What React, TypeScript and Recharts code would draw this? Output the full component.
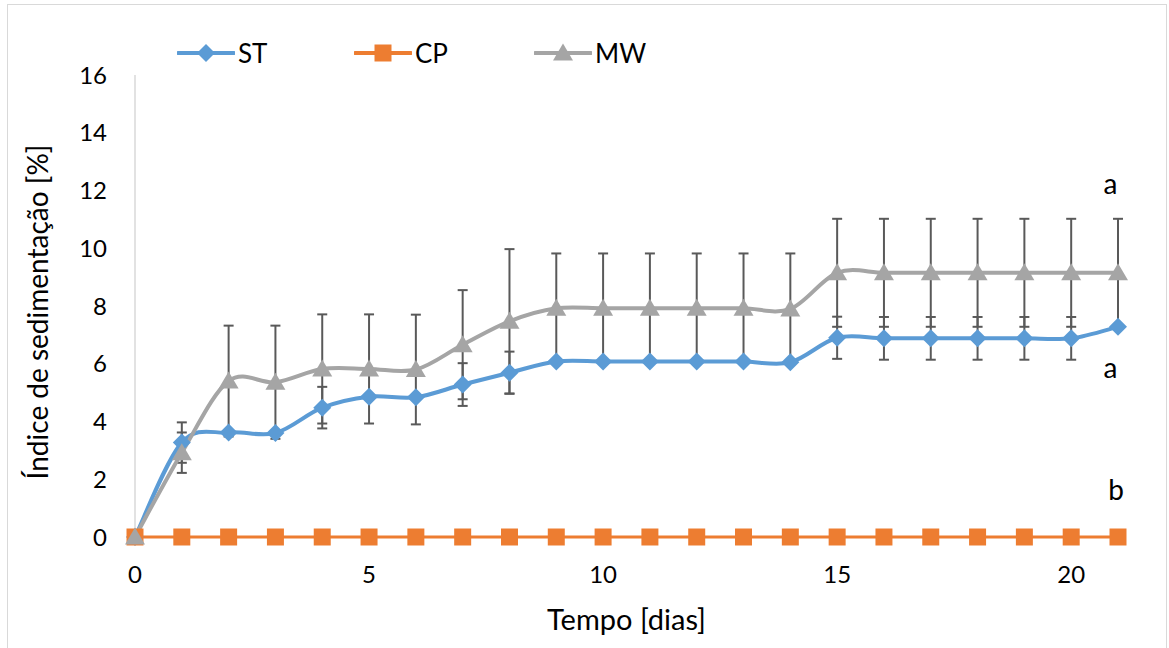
import React from 'react';
import { LineChart, Line, XAxis, YAxis, ErrorBar, ReferenceDot } from 'recharts';

const FONT = 'Lato, "Open Sans", sans-serif';

// ---- data ----
const days = [0, 1, 2, 3, 4, 5, 6, 7, 8, 9, 10, 11, 12, 13, 14, 15, 16, 17, 18, 19, 20, 21];
const stValues = [0, 3.27, 3.62, 3.6, 4.48, 4.86, 4.84, 5.28, 5.69, 6.08, 6.08, 6.08, 6.08, 6.08, 6.05, 6.9, 6.88, 6.88, 6.88, 6.88, 6.88, 7.28];
const stErrors = [0, 0.7, 0, 0, 0.72, 0, 0, 0.74, 0.73, 0, 0, 0, 0, 0, 0, 0.73, 0.74, 0.74, 0.74, 0.74, 0.74, 0];
const cpValues = [0, 0, 0, 0, 0, 0, 0, 0, 0, 0, 0, 0, 0, 0, 0, 0, 0, 0, 0, 0, 0, 0];
const mwValues = [0, 2.92, 5.4, 5.36, 5.82, 5.82, 5.8, 6.66, 7.47, 7.92, 7.92, 7.92, 7.92, 7.92, 7.9, 9.15, 9.15, 9.15, 9.15, 9.15, 9.15, 9.15];
const mwErrors = [0, 0.7, 1.92, 1.96, 1.89, 1.89, 1.9, 1.89, 2.5, 1.9, 1.9, 1.9, 1.9, 1.9, 1.92, 1.87, 1.87, 1.87, 1.87, 1.87, 1.87, 1.87];

const xTicks = [0, 5, 10, 15, 20];
const yTicks = [0, 2, 4, 6, 8, 10, 12, 14, 16];

const seriesNames = ['ST', 'CP', 'MW'];
const seriesColors = ['#5B9BD5', '#ED7D31', '#A5A5A5'];

const letterLabels = ['a', 'a', 'b'];
const letterX = [20.84, 20.84, 20.96];
const letterY = [12.22, 5.85, 1.63];

const rows = days.map((d, i) => ({
  day: d,
  st: stValues[i],
  stErr: stErrors[i],
  cp: cpValues[i],
  mw: mwValues[i],
  mwErr: mwErrors[i],
}));

// Excel-like smoothing (Catmull-Rom Bezier)
function excelCurve(context: any) {
  let pts: number[][] = [];
  return {
    areaStart() {},
    areaEnd() {},
    lineStart() {
      pts = [];
    },
    point(x: number, y: number) {
      pts.push([+x, +y]);
    },
    lineEnd() {
      const n = pts.length;
      if (!n) return;
      context.moveTo(pts[0][0], pts[0][1]);
      const t = 1 / 6;
      for (let i = 0; i < n - 1; i++) {
        const p0 = pts[Math.max(0, i - 1)];
        const p1 = pts[i];
        const p2 = pts[i + 1];
        const p3 = pts[Math.min(n - 1, i + 2)];
        context.bezierCurveTo(
          p1[0] + (p2[0] - p0[0]) * t,
          p1[1] + (p2[1] - p0[1]) * t,
          p2[0] - (p3[0] - p1[0]) * t,
          p2[1] - (p3[1] - p1[1]) * t,
          p2[0],
          p2[1]
        );
      }
    },
  };
}

const markerPath = (kind: number, cx: number, cy: number) => {
  if (kind === 0) {
    const s = 9;
    return `M${cx},${cy - s}L${cx + s},${cy}L${cx},${cy + s}L${cx - s},${cy}Z`;
  }
  if (kind === 1) {
    const h = 8.5;
    return `M${cx - h},${cy - h}H${cx + h}V${cy + h}H${cx - h}Z`;
  }
  return `M${cx},${cy - 9.5}L${cx + 10},${cy + 7.5}L${cx - 10},${cy + 7.5}Z`;
};

const makeDot = (kind: number) => (p: any) => {
  const { cx, cy, index } = p;
  if (cx == null || cy == null) return <g key={`n${kind}-${index}`} />;
  return <path key={`m${kind}-${index}`} d={markerPath(kind, cx, cy)} fill={seriesColors[kind]} />;
};

const LEGEND_X = [177, 354, 534];

const tickStyle = { fill: '#000', fontSize: 24, fontFamily: FONT };

export default function App() {
  return (
    <div
      style={{
        position: 'absolute',
        left: 0,
        top: 0,
        width: 1169,
        height: 648,
        overflow: 'hidden',
        background: '#fff',
        fontFamily: FONT,
      }}
    >
      <div
        style={{
          position: 'absolute',
          left: 7,
          top: 4,
          width: 1160,
          height: 700,
          border: '1px solid #d9d9d9',
          boxSizing: 'border-box',
        }}
      />
      <div style={{ position: 'absolute', left: 0, top: 0 }}>
        <LineChart width={1169} height={648} data={rows} margin={{ top: 75, right: 51, bottom: 0, left: 5 }}>
          <XAxis
            dataKey="day"
            type="number"
            domain={[0, 21]}
            ticks={xTicks}
            axisLine={false}
            tickLine={false}
            tickMargin={23}
            height={111}
            tick={tickStyle}
            label={{
              value: 'Tempo [dias]',
              position: 'insideBottom',
              offset: 18,
              fill: '#000',
              fontSize: 29,
              fontFamily: FONT,
            }}
          />
          <YAxis
            type="number"
            domain={[0, 16]}
            ticks={yTicks}
            width={130}
            axisLine={{ stroke: '#d9d9d9', strokeWidth: 1.5 }}
            tickLine={false}
            tickMargin={22}
            tick={tickStyle}
            label={{
              value: 'Índice de sedimentação [%]',
              position: 'center',
              angle: -90,
              dx: -32,
              dy: 6,
              fill: '#000',
              fontSize: 28,
              fontFamily: FONT,
            }}
          />
          {/* MW error bars drawn beneath other series' markers */}
          <Line
            dataKey="mw"
            stroke="none"
            dot={false}
            activeDot={false}
            isAnimationActive={false}
            legendType="none"
          >
            <ErrorBar dataKey="mwErr" direction="y" width={5} strokeWidth={2} stroke="#595959" />
          </Line>
          <Line
            dataKey="st"
            name={seriesNames[0]}
            type={excelCurve as any}
            stroke={seriesColors[0]}
            strokeWidth={4}
            dot={makeDot(0)}
            activeDot={false}
            isAnimationActive={false}
          >
            <ErrorBar dataKey="stErr" direction="y" width={5} strokeWidth={2} stroke="#595959" />
          </Line>
          <Line
            dataKey="cp"
            name={seriesNames[1]}
            type="linear"
            stroke={seriesColors[1]}
            strokeWidth={3}
            dot={makeDot(1)}
            activeDot={false}
            isAnimationActive={false}
          />
          <Line
            dataKey="mw"
            name={seriesNames[2]}
            type={excelCurve as any}
            stroke={seriesColors[2]}
            strokeWidth={4}
            dot={makeDot(2)}
            activeDot={false}
            isAnimationActive={false}
          />
          {letterLabels.map((l, i) => (
            <ReferenceDot
              key={`lbl${i}`}
              x={letterX[i]}
              y={letterY[i]}
              r={0}
              fill="none"
              stroke="none"
              label={{ value: l, position: 'center', fill: '#000', fontSize: 28, fontFamily: FONT }}
            />
          ))}
        </LineChart>
      </div>
      {seriesNames.map((name, i) => (
        <div
          key={name}
          style={{
            position: 'absolute',
            left: LEGEND_X[i],
            top: 39,
            height: 28,
            display: 'flex',
            alignItems: 'center',
            fontSize: 26,
            color: '#000',
            lineHeight: '28px',
          }}
        >
          <svg width={58} height={24} style={{ display: 'block' }}>
            <line x1={1} y1={12} x2={57} y2={12} stroke={seriesColors[i]} strokeWidth={4} strokeLinecap="round" />
            <path d={markerPath(i, 29, 12)} fill={seriesColors[i]} />
          </svg>
          <span style={{ marginLeft: 3 }}>{name}</span>
        </div>
      ))}
    </div>
  );
}
